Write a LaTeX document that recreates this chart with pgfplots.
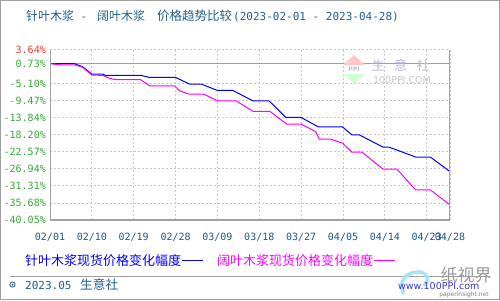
\documentclass[border=0pt]{standalone}
\usepackage{pgfplots}
\pgfplotsset{compat=1.18}
\usepackage{fontspec}
\setmainfont{DejaVu Sans}
\setmonofont{DejaVu Sans Mono}
\newfontfamily\cjk{Noto Sans CJK SC}
\definecolor{titleblue}{HTML}{1F5F8F}
\definecolor{ticklblue}{HTML}{1A5A86}
\definecolor{ygreen}{HTML}{33AA33}
\definecolor{yred}{HTML}{FF3333}
\definecolor{gridgray}{HTML}{C8C8C8}
\definecolor{framegray}{HTML}{A0A0A0}
\definecolor{pblue}{HTML}{0000FF}
\definecolor{pmag}{HTML}{FF00FF}
\definecolor{wmtext}{HTML}{B8BEDC}
\begin{document}
\begin{tikzpicture}
\begin{axis}[
  name=ax,
  scale only axis, width=400pt, height=170.5pt,
  xmin=0, xmax=86, ymin=-40.05, ymax=3.64,
  xtick={0,9,18,27,36,45,54,63,72,81,86},
  xticklabels={02/01,02/10,02/19,02/28,03/09,03/18,03/27,04/05,04/14,04/23,04/28},
  ytick={-40.05,-35.68,-31.31,-26.94,-22.57,-18.20,-13.84,-9.47,-5.10,0,3.64},
  yticklabels={-40.05\%,-35.68\%,-31.31\%,-26.94\%,-22.57\%,-18.20\%,-13.84\%,-9.47\%,-5.10\%,0.73\%,\textcolor{yred}{3.64\%}},
  grid=major,
  major grid style={gridgray, dash pattern=on 2pt off 2pt, line width=0.8pt},
  axis line style={draw=none},
  major tick length=0pt,
  xticklabel style={font=\ttfamily\fontsize{10}{12}\selectfont, text=ticklblue, anchor=center, yshift=-17pt, inner sep=0pt},
  yticklabel style={font=\ttfamily\fontsize{10}{12}\selectfont, text=ygreen, anchor=east, xshift=-4pt, inner sep=0pt},
  legend columns=2,
  legend plot pos=right,
  legend cell align=left,
  legend image code/.code={\draw[#1, line width=1pt] (8pt,0pt) -- (29pt,0pt); \path (43pt,0pt);},
  legend style={at={(-0.0625,-0.2375)}, anchor=west, draw=none, fill=none, inner sep=0pt,
     column sep=0pt, font=\cjk\fontsize{13}{15}\selectfont, nodes={inner sep=0pt}},
]
\draw[framegray, line width=0.9pt] (axis cs:0,0) -- (axis cs:86,0);
\addplot[pblue, line width=1pt, mark=none] coordinates {
(0,0) (5.3,0) (7,-0.77) (9,-2.64) (11.4,-2.64) (11.8,-3.0) (19.6,-3.0) (21.4,-3.52) (27,-3.52)
(29.6,-5.0) (30,-5.21) (32.5,-5.21) (36,-6.85) (39.3,-6.85) (43.6,-9.5) (47.1,-9.5)
(50.7,-13.78) (54,-13.78) (57.7,-16.2) (62.9,-16.2) (64.9,-18.23) (66.5,-18.23)
(71.6,-21.38) (72.9,-21.38) (78.7,-23.95) (81.8,-23.95) (86,-27.65)
};
\addlegendentry{\textcolor{pblue}{针叶木浆现货价格变化幅度}}
\addplot[pmag, line width=1pt, mark=none] coordinates {
(0,0) (2.5,-0.3) (5.3,-0.3) (7,-0.9) (9,-2.9) (11.4,-3.0) (12.5,-3.6) (14,-4.1) (19.5,-4.1)
(21.4,-5.65) (26.8,-5.65) (27.8,-6.93) (29.9,-7.78) (33,-7.78) (36,-9.5) (40,-9.5)
(43.7,-12.24) (47.3,-12.24) (50.9,-15.48) (54,-15.48) (57.1,-17.38) (57.9,-19.33)
(60.4,-19.33) (62.9,-20.36) (64.9,-22.67) (67.1,-22.67) (71.6,-27.03) (74.6,-27.03)
(78.6,-32.34) (81.8,-32.34) (86,-36.19)
};
\addlegendentry{\textcolor{pmag}{阔叶木浆现货价格变化幅度}}
\draw[framegray, line width=1.2pt] (rel axis cs:0,1) -- (rel axis cs:0,0) -- (rel axis cs:1,0) -- (rel axis cs:1,1);
\end{axis}
\begin{scope}[x=1pt,y=1pt,shift={(-50pt,-80pt)}]
\path (0,0) rectangle (500,300);
\draw[framegray, line width=1pt] (0.5,0.5) rectangle (499.5,299.5);
% title
\node[anchor=base west, inner sep=0pt, text=titleblue, font=\cjk\fontsize{12}{14}\selectfont] at (26,279.7) {针叶木浆};
\node[anchor=base, inner sep=0pt, text=titleblue, font=\ttfamily\fontsize{11}{13}\selectfont] at (84,279.7) {-};
\node[anchor=base west, inner sep=0pt, text=titleblue, font=\cjk\fontsize{12}{14}\selectfont] at (97,279.7) {阔叶木浆};
\node[anchor=base west, inner sep=0pt, text=titleblue, font=\cjk\fontsize{12.5}{14}\selectfont] at (157,279.7) {价格趋势比较};
\node[anchor=base west, inner sep=0pt, text=titleblue, font=\ttfamily\fontsize{11}{13}\selectfont] at (233,279.7) {(2023-02-01 - 2023-04-28)};
% watermark
\fill[red!22!white] (343,235) -- (365,235) -- (354,245) -- cycle;
\fill[green!18!white] (343,226) -- (365,226) -- (354,216) -- cycle;
\node[inner sep=0pt, text=wmtext, font=\bfseries\fontsize{6}{7}\selectfont] at (354,230.5) {PPI};
\node[inner sep=0pt, text=wmtext, font=\cjk\fontsize{13}{15}\selectfont] at (378,234.5) {生};
\node[inner sep=0pt, text=wmtext, font=\cjk\fontsize{13}{15}\selectfont] at (400.5,234.5) {意};
\node[inner sep=0pt, text=wmtext, font=\cjk\fontsize{13}{15}\selectfont] at (423,234.5) {社};
\node[inner sep=0pt, text=gray!45, font=\fontsize{9.5}{11}\selectfont] at (402,220) {100PPI.COM};
% footer
\draw[framegray, line width=1pt] (10,24) -- (490,24);
\draw[titleblue, line width=0.8pt] (12.5,15.5) circle (2.6pt);
\fill[titleblue] (12.5,15.5) circle (1pt);
\node[anchor=base west, inner sep=0pt, text=titleblue, font=\ttfamily\fontsize{11}{13}\selectfont] at (25,10.7) {2023.05};
\node[anchor=base west, inner sep=0pt, text=titleblue, font=\cjk\fontsize{12.7}{14}\selectfont] at (80,10.7) {生意社};
% bottom-right logo
\draw[cyan!35, line width=3.5pt] (404,6) .. controls (398,16) and (404,28) .. (418,28) .. controls (428,28) and (430,20) .. (424,14);
\node[inner sep=0pt, text=gray!80, font=\cjk\fontsize{17}{19}\selectfont] at (466,25) {纸视界};
\node[anchor=base west, inner sep=0pt, text=blue!55!gray, font=\fontsize{9.5}{11}\selectfont] at (398,11) {www.100PPI.com};
\node[anchor=base east, inner sep=0pt, text=gray, font=\fontsize{6}{7}\selectfont] at (489,3.2) {paperinsight.net};
\end{scope}
\end{tikzpicture}
\end{document}
